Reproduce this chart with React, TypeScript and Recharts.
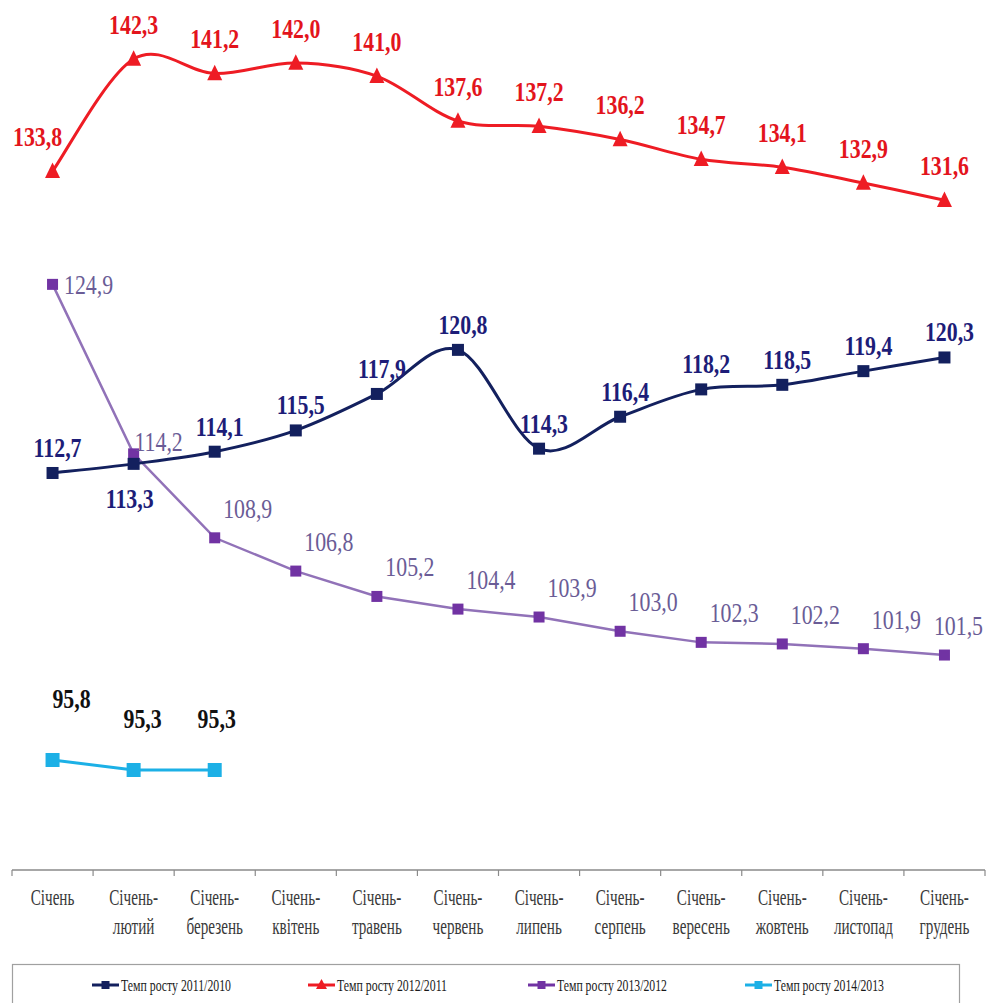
import React from "react";
import { LineChart, Line, XAxis, YAxis, LabelList } from "recharts";

const categories = [
  "Січень",
  "Січень-лютий",
  "Січень-березень",
  "Січень-квітень",
  "Січень-травень",
  "Січень-червень",
  "Січень-липень",
  "Січень-серпень",
  "Січень-вересень",
  "Січень-жовтень",
  "Січень-листопад",
  "Січень-грудень",
];
const growth2011 = [112.7, 113.3, 114.1, 115.5, 117.9, 120.8, 114.3, 116.4, 118.2, 118.5, 119.4, 120.3];
const growth2012 = [133.8, 142.3, 141.2, 142.0, 141.0, 137.6, 137.2, 136.2, 134.7, 134.1, 132.9, 131.6];
const growth2013 = [124.9, 114.2, 108.9, 106.8, 105.2, 104.4, 103.9, 103.0, 102.3, 102.2, 101.9, 101.5];
const growth2014 = [95.8, 95.3, 95.3];
const seriesNames = [
  "Темп росту 2011/2010",
  "Темп росту 2012/2011",
  "Темп росту 2013/2012",
  "Темп росту 2014/2013",
];

const data = categories.map((cat, i) => ({
  cat,
  s2011: growth2011[i],
  s2012: growth2012[i],
  s2013: growth2013[i],
  s2014: i < growth2014.length ? growth2014[i] : null,
}));

const W = 987;
const H = 1003;
const M = { top: 10, right: 2, left: 12, bottom: 53 };
const XAXIS_H = 80;
const AXIS_Y = H - M.bottom - XAXIS_H;
const BAND = (W - M.left - M.right) / categories.length;

const C_BLUE = "#13205e";
const C_RED = "#ee1c24";
const C_PURPLE_LINE = "#9172b8";
const C_PURPLE_MARK = "#7133a3";
const C_PURPLE_TEXT = "#6a5c96";
const C_CYAN = "#1cb0e6";
const SERIF = "Liberation Serif, DejaVu Serif, serif";

// Catmull-Rom style smoothing (Excel-like smoothed line)
const smoothCurve: any = (context: any) => {
  let pts: number[][] = [];
  return {
    areaStart() {},
    areaEnd() {},
    lineStart() {
      pts = [];
    },
    point(x: number, y: number) {
      pts.push([+x, +y]);
    },
    lineEnd() {
      if (!pts.length) return;
      context.moveTo(pts[0][0], pts[0][1]);
      for (let i = 0; i < pts.length - 1; i++) {
        const p0 = pts[i - 1] || pts[i];
        const p1 = pts[i];
        const p2 = pts[i + 1];
        const p3 = pts[i + 2] || p2;
        context.bezierCurveTo(
          p1[0] + (p2[0] - p0[0]) / 6,
          p1[1] + (p2[1] - p0[1]) / 6,
          p2[0] - (p3[0] - p1[0]) / 6,
          p2[1] - (p3[1] - p1[1]) / 6,
          p2[0],
          p2[1]
        );
      }
    },
  };
};

const fmt = (v: number) => v.toFixed(1).replace(".", ",");

const squareDot = (color: string, size: number) => (props: any) => {
  const { cx, cy, index } = props;
  if (cx == null || cy == null || props.value == null) return <g key={`d${index}`} />;
  return <rect key={`d${index}`} x={cx - size / 2} y={cy - size / 2} width={size} height={size} fill={color} />;
};

const triangleDot = (color: string, size: number) => (props: any) => {
  const { cx, cy, index } = props;
  if (cx == null || cy == null) return <g key={`d${index}`} />;
  const h = size * 0.9;
  return (
    <polygon
      key={`d${index}`}
      points={`${cx},${cy - h / 2 - 2} ${cx - size / 2},${cy + h / 2} ${cx + size / 2},${cy + h / 2}`}
      fill={color}
    />
  );
};

const valueText = (x: number, y: number, value: number, fill: string, bold: boolean, key: any) => (
  <text
    key={key}
    transform={`translate(${x},${y}) scale(0.78,1)`}
    textAnchor="middle"
    fontFamily={SERIF}
    fontSize={28}
    fontWeight={bold ? "bold" : "normal"}
    fill={fill}
  >
    {fmt(value)}
  </text>
);

const redLabel = (p: any) => {
  if (p.value == null) return null;
  const dx = p.index === 0 ? -15 : 0;
  return valueText(p.x + dx, p.y - 25, p.value, "#e3141c", true, p.index);
};
const blueLabel = (p: any) => {
  if (p.value == null) return null;
  const dy = p.index === 1 ? 44 : -16;
  const dx = p.index === 1 ? -4 : 5;
  return valueText(p.x + dx, p.y + dy, p.value, "#1d1d78", true, p.index);
};
const purpleLabel = (p: any) => {
  if (p.value == null) return null;
  let dx = 33;
  let dy = -20;
  if (p.index === 0) {
    dx = 36;
    dy = 10;
  } else if (p.index === 1) {
    dx = 25;
    dy = -3;
  } else if (p.index === categories.length - 1) {
    dx = 14;
  }
  return valueText(p.x + dx, p.y + dy, p.value, C_PURPLE_TEXT, false, p.index);
};
const cyanLabel = (p: any) => {
  if (p.value == null) return null;
  const dx = p.index === 0 ? 19 : p.index === 1 ? 9 : 2;
  const dy = p.index === 0 ? -52 : -42;
  return valueText(p.x + dx, p.y + dy, p.value, "#111111", true, p.index);
};

const CategoryTick = (props: any) => {
  const { x, payload, index } = props;
  const label: string = payload.value;
  const dash = label.indexOf("-");
  const lines = dash >= 0 ? [label.slice(0, dash + 1), label.slice(dash + 1)] : [label];
  const tickX = x - BAND / 2;
  return (
    <g>
      <line x1={tickX} y1={AXIS_Y} x2={tickX} y2={AXIS_Y + 6} stroke="#8a8a8a" strokeWidth={1.2} />
      {index === categories.length - 1 && (
        <line x1={x + BAND / 2} y1={AXIS_Y} x2={x + BAND / 2} y2={AXIS_Y + 6} stroke="#8a8a8a" strokeWidth={1.2} />
      )}
      {lines.map((ln, i) => (
        <text
          key={i}
          transform={`translate(${x},${AXIS_Y + 35 + i * 29}) scale(0.66,1)`}
          textAnchor="middle"
          fontFamily={SERIF}
          fontSize={23}
          fill="#3a3a3a"
        >
          {ln}
        </text>
      ))}
    </g>
  );
};

const legendItems = [
  { name: seriesNames[0], color: C_BLUE, x: 92, shape: "square" },
  { name: seriesNames[1], color: C_RED, x: 308, shape: "triangle" },
  { name: seriesNames[2], color: C_PURPLE_MARK, x: 528, shape: "square" },
  { name: seriesNames[3], color: C_CYAN, x: 745, shape: "square" },
];

export default function App() {
  return (
    <div
      style={{
        position: "absolute",
        left: 0,
        top: 0,
        width: W,
        height: H,
        overflow: "hidden",
        background: "#ffffff",
      }}
    >
      <LineChart width={W} height={H} data={data} margin={M}>
        <XAxis
          dataKey="cat"
          height={XAXIS_H}
          interval={0}
          tickLine={false}
          tick={<CategoryTick />}
          padding={{ left: BAND / 2, right: BAND / 2 }}
          axisLine={{ stroke: "#8a8a8a", strokeWidth: 1.5 }}
        />
        <YAxis yAxisId="r" hide type="number" domain={[80.86, 146.01]} allowDataOverflow />
        <YAxis yAxisId="b" hide type="number" domain={[86.58, 143.16]} allowDataOverflow />
        <YAxis yAxisId="p" hide type="number" domain={[87.93, 142.22]} allowDataOverflow />
        <YAxis yAxisId="c" hide type="number" domain={[90.3, 133.3]} allowDataOverflow />
        <Line
          yAxisId="p"
          dataKey="s2013"
          name={seriesNames[2]}
          type="linear"
          stroke={C_PURPLE_LINE}
          strokeWidth={2.5}
          dot={squareDot(C_PURPLE_MARK, 11)}
          isAnimationActive={false}
        >
          <LabelList dataKey="s2013" content={purpleLabel} />
        </Line>
        <Line
          yAxisId="b"
          dataKey="s2011"
          name={seriesNames[0]}
          type={smoothCurve}
          stroke={C_BLUE}
          strokeWidth={3}
          dot={squareDot(C_BLUE, 12)}
          isAnimationActive={false}
        >
          <LabelList dataKey="s2011" content={blueLabel} />
        </Line>
        <Line
          yAxisId="r"
          dataKey="s2012"
          name={seriesNames[1]}
          type={smoothCurve}
          stroke={C_RED}
          strokeWidth={3}
          dot={triangleDot(C_RED, 15)}
          isAnimationActive={false}
        >
          <LabelList dataKey="s2012" content={redLabel} />
        </Line>
        <Line
          yAxisId="c"
          dataKey="s2014"
          name={seriesNames[3]}
          type="linear"
          stroke={C_CYAN}
          strokeWidth={3}
          dot={squareDot(C_CYAN, 14)}
          connectNulls={false}
          isAnimationActive={false}
        >
          <LabelList dataKey="s2014" content={cyanLabel} />
        </Line>
      </LineChart>
      <svg
        width={W}
        height={H}
        style={{ position: "absolute", left: 0, top: 0, pointerEvents: "none" }}
      >
        <rect x={12.5} y={964.5} width={947} height={60} fill="none" stroke="#a0a0a0" strokeWidth={1.2} />
        {legendItems.map((it) => (
          <g key={it.name}>
            <line x1={it.x} y1={985} x2={it.x + 27} y2={985} stroke={it.color} strokeWidth={3} />
            {it.shape === "triangle" ? (
              <polygon
                points={`${it.x + 13.5},${979} ${it.x + 8},${989} ${it.x + 19},${989}`}
                fill={it.color}
              />
            ) : (
              <rect x={it.x + 9.5} y={981} width={8} height={8} fill={it.color} />
            )}
            <text
              x={it.x + 29}
              y={991}
              fontFamily={SERIF}
              fontSize={17}
              fill="#1a1a1a"
              textLength={110}
              lengthAdjust="spacingAndGlyphs"
            >
              {it.name}
            </text>
          </g>
        ))}
      </svg>
    </div>
  );
}
